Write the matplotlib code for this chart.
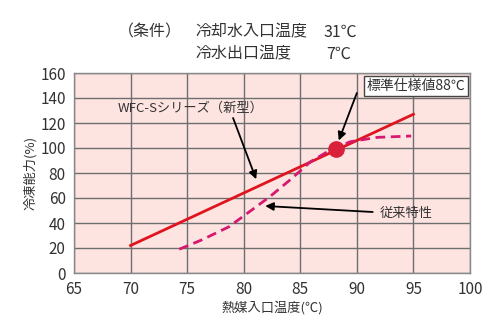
import matplotlib
matplotlib.use('Agg')
import matplotlib.pyplot as plt

plt.rcParams['font.family'] = ['Noto Sans CJK JP', 'DejaVu Sans']

# new type (WFC-S series)
new_x = [70, 95]
new_y = [22, 127]

# conventional characteristic
old_x = [74.3, 76.3, 78.7, 80.5, 82.3, 84.1, 85.9, 87.4, 88.2, 89.4, 91.8, 94.8]
old_y = [19, 26.5, 37, 49, 61, 74.5, 89, 97, 100, 105, 108.5, 109.6]

std_x = [88.2]
std_y = [99.5]

xticks = [65, 70, 75, 80, 85, 90, 95, 100]
yticks = [0, 20, 40, 60, 80, 100, 120, 140, 160]

fig = plt.figure(figsize=(5, 3.36), dpi=100)
ax = fig.add_axes([74 / 500, 1 - 273 / 336, 396 / 500, 200 / 336])
ax.set_facecolor('#fde4e1')

ax.plot(new_x, new_y, color='#e0141e', lw=2, zorder=3)
ax.plot(old_x, old_y, color='#d6186f', lw=2, ls=(0, (3.5, 2)), zorder=3)
ax.plot(std_x, std_y, 'o', color='#d9203a', ms=11, zorder=4)

ax.set_xlim(65, 100)
ax.set_ylim(0, 160)
ax.set_xticks(xticks)
ax.set_yticks(yticks)
ax.tick_params(length=0, labelsize=11, colors='#333333', pad=6)
ax.grid(True, color='#6e6e6e', lw=1)
for s in ax.spines.values():
    s.set_color('#888888')
    s.set_linewidth(1)

ax.set_xlabel('熱媒入口温度(℃)', fontsize=9.5, color='#333333', labelpad=2)
ax.set_ylabel('冷凍能力(%)', fontsize=9.5, color='#333333', labelpad=2)

arrow = dict(arrowstyle='-|>', color='black', lw=1.3, mutation_scale=12,
             shrinkA=0, shrinkB=0)
ax.annotate('', xy=(81.1, 75), xytext=(79.06, 124), arrowprops=arrow)
ax.annotate('', xy=(88.4, 106), xytext=(90.0, 144), arrowprops=arrow)
ax.annotate('', xy=(81.9, 53.6), xytext=(91.4, 48.8), arrowprops=arrow)

ax.text(75.3, 132, 'WFC-Sシリーズ（新型）', ha='center', va='center',
        fontsize=9.5, color='#333333')
ax.text(95.2, 149.6, '標準仕様値88℃', ha='center', va='center',
        fontsize=10, color='#333333',
        bbox=dict(boxstyle='square,pad=0.2', fc='white', ec='#444444', lw=1))
ax.text(94.4, 48, '従来特性', ha='center', va='center',
        fontsize=9.5, color='#333333')

fig.text(150 / 500, 1 - 32 / 336, '（条件）', ha='center', va='center', fontsize=11.5, color='#333333')
fig.text(195 / 500, 1 - 32 / 336, '冷却水入口温度', ha='left', va='center', fontsize=11.5, color='#333333')
fig.text(323 / 500, 1 - 32 / 336, '31℃', ha='left', va='center', fontsize=11.5, color='#333333')
fig.text(195 / 500, 1 - 54 / 336, '冷水出口温度', ha='left', va='center', fontsize=11.5, color='#333333')
fig.text(326 / 500, 1 - 54 / 336, '7℃', ha='left', va='center', fontsize=11.5, color='#333333')

fig.savefig('out.png', dpi=100)
